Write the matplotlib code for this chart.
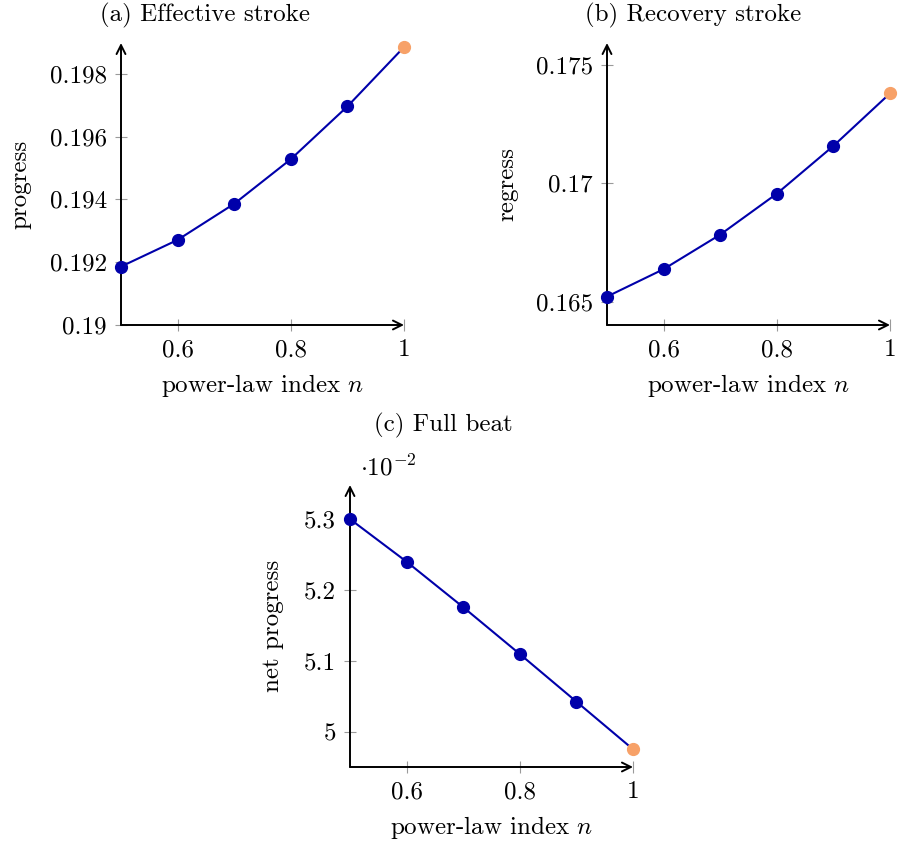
import matplotlib
matplotlib.use("Agg")
from matplotlib import pyplot as plt
from matplotlib.ticker import FixedLocator, FuncFormatter

# values
n = [0.5, 0.6, 0.7, 0.8, 0.9, 1.0]
progress = [0.19186, 0.19271, 0.19386, 0.19528, 0.19696, 0.19885]
regress = [0.16521, 0.16637, 0.16783, 0.16956, 0.17158, 0.17380]
net_progress = [0.05300, 0.05240, 0.05176, 0.05110, 0.05043, 0.04976]

xticks = [0.6, 0.8, 1.0]
yticks_a = [0.190, 0.192, 0.194, 0.196, 0.198]
yticks_b = [0.165, 0.170, 0.175]
yticks_c = [0.050, 0.051, 0.052, 0.053]

BLUE = "#0000AA"
ORANGE = "#F7A168"
FS = 18

plt.rcParams["font.family"] = "cmr10"
plt.rcParams["mathtext.fontset"] = "cm"
plt.rcParams["axes.formatter.use_mathtext"] = True

W, H = 898, 847
fig = plt.figure(figsize=(W / 100, H / 100), dpi=100)


def px_axes(left, top, right, bottom):
    return fig.add_axes([left / W, 1 - bottom / H, (right - left) / W, (bottom - top) / H])


def fmt(scale=1.0):
    return FuncFormatter(lambda v, p: "%g" % round(v * scale, 4))


def panel(ax, y, ylim, yticks, ylabel, ylab_x, scale=1.0):
    ax.plot(n, y, "-", color=BLUE, lw=1.5, clip_on=False, zorder=3)
    ax.plot(n[:-1], y[:-1], "o", color=BLUE, ms=8.5, clip_on=False, zorder=4)
    ax.plot(n[-1:], y[-1:], "o", color=ORANGE, ms=8.5, clip_on=False, zorder=4)
    ax.set_xlim(0.5, 1.0)
    ax.set_ylim(*ylim)
    ax.xaxis.set_major_locator(FixedLocator(xticks))
    ax.yaxis.set_major_locator(FixedLocator(yticks))
    ax.xaxis.set_major_formatter(fmt())
    ax.yaxis.set_major_formatter(fmt(scale))
    for s in ax.spines.values():
        s.set_visible(False)
    ax.tick_params(direction="inout", length=8, width=0.8, color="#9a9a9a",
                   labelsize=FS, pad=6)
    ax.patch.set_alpha(0)
    ap = dict(arrowstyle="->", lw=1.4, color="k", shrinkA=0, shrinkB=0,
              mutation_scale=16)
    ax.annotate("", xy=(1.0, 0), xytext=(0, 0), xycoords="axes fraction",
                arrowprops=ap)
    ax.annotate("", xy=(0, 1.0), xytext=(0, 0), xycoords="axes fraction",
                arrowprops=ap)
    ax.text(0.5, -0.213, "power-law index $n$", transform=ax.transAxes,
            ha="center", va="center", fontsize=FS)
    ax.text(ylab_x, 0.5, ylabel, transform=ax.transAxes, rotation=90,
            ha="center", va="center", fontsize=FS)


ax1 = px_axes(121, 43, 404, 325)
panel(ax1, progress, (0.19, 0.19898), yticks_a, "progress", -0.357)

ax2 = px_axes(607, 43, 890, 325)
panel(ax2, regress, (0.16401, 0.17593), yticks_b, "regress", -0.351)

ax3 = px_axes(350, 485, 633, 767)
panel(ax3, net_progress, (0.04951, 0.05348), yticks_c, "net progress", -0.271,
      scale=100)
ax3.text(0.035, 1.015, r"$\cdot10^{-2}$", transform=ax3.transAxes,
         ha="left", va="bottom", fontsize=FS)

fig.text(205 / W, 1 - 15 / H, "(a) Effective stroke", ha="center", va="center",
         fontsize=FS)
fig.text(693 / W, 1 - 15 / H, "(b) Recovery stroke", ha="center", va="center",
         fontsize=FS)
fig.text(443 / W, 1 - 425 / H, "(c) Full beat", ha="center", va="center",
         fontsize=FS)

fig.savefig("out.png", dpi=100)
